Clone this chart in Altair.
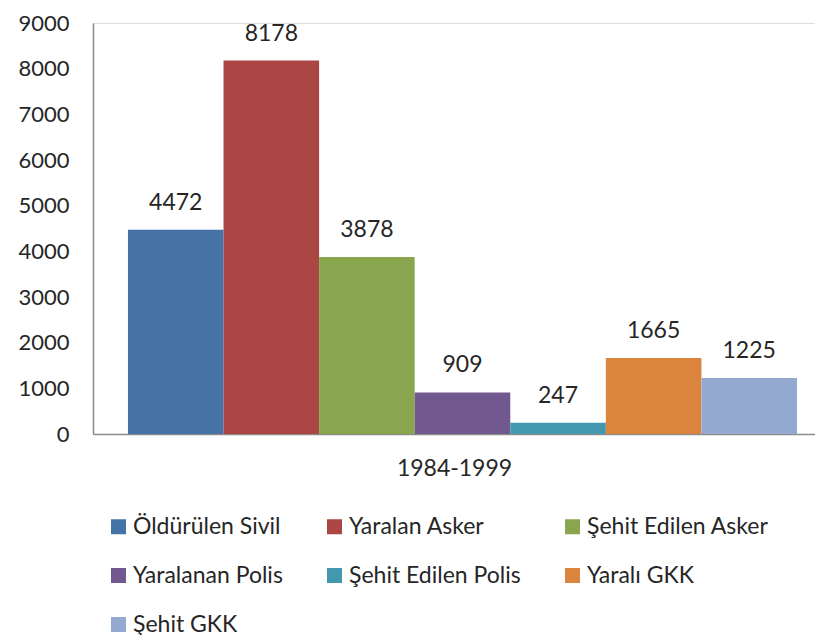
import altair as alt
import pandas as pd

series = ["Öldürülen Sivil", "Yaralan Asker", "Şehit Edilen Asker", "Yaralanan Polis",
          "Şehit Edilen Polis", "Yaralı GKK", "Şehit GKK"]
values = [4472, 8178, 3878, 909, 247, 1665, 1225]
colors = ["#4572A7", "#AA4643", "#89A54E", "#71588F", "#4198AF", "#DB843D", "#93A9CF"]
period = "1984-1999"
y_ticks = list(range(0, 9001, 1000))

df = pd.DataFrame({"series": series, "value": values})

FONT = "Lato"
FS = 23

x_enc = alt.X("series:N", sort=series,
              scale=alt.Scale(paddingInner=0, paddingOuter=0.277, align=0.66),
              axis=alt.Axis(labels=False, ticks=False, title=period, titlePadding=23,
                            titleFontSize=FS, titleFontWeight="normal", titleColor="#262626",
                            titleFont=FONT, domainColor="#8c8c8c", domainWidth=1.5))

y_enc = alt.Y("value:Q", scale=alt.Scale(domain=[0, 9000]),
              axis=alt.Axis(values=y_ticks, grid=False, ticks=False, title=None, format="d",
                            labelFontSize=22, labelFont=FONT, labelColor="#262626",
                            labelPadding=24, domainColor="#8c8c8c", domainWidth=1.5))

bars = alt.Chart(df).mark_bar().encode(
    x=x_enc,
    y=y_enc,
    color=alt.Color("series:N", sort=series,
                    scale=alt.Scale(domain=series, range=colors),
                    legend=alt.Legend(title=None, orient="none", legendX=14, legendY=492,
                                      columns=3, direction="horizontal",
                                      symbolType="square", symbolSize=225,
                                      symbolStrokeWidth=0, symbolOpacity=1,
                                      labelFontSize=FS, labelFont=FONT, labelColor="#262626",
                                      labelOffset=3, columnPadding=40, rowPadding=25,
                                      labelLimit=400)),
)

labels = alt.Chart(df).mark_text(baseline="middle", dy=-27, fontSize=FS, font=FONT,
                                 color="#262626").encode(
    x=alt.X("series:N", sort=series),
    y=alt.Y("value:Q"),
    text=alt.Text("value:Q", format="d"),
)

chart = alt.layer(bars, labels).properties(
    width=722, height=411,
    autosize=alt.AutoSizeParams(type="none"),
    padding={"left": 85, "top": 15, "right": 0, "bottom": 201},
).configure_view(stroke=None).configure(font=FONT)

chart.save("out.html", embed_options={"renderer": "svg", "actions": False})
